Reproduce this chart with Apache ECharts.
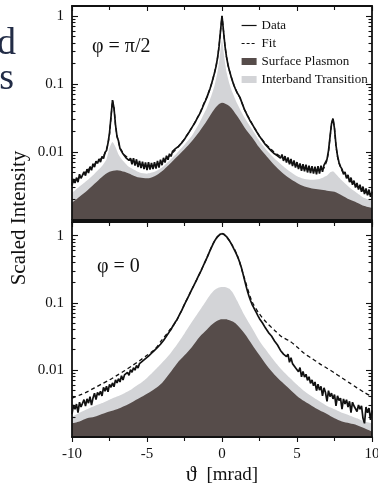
<!DOCTYPE html>
<html>
<head>
<meta charset="utf-8">
<script src="https://cdn.jsdelivr.net/npm/echarts@6/dist/echarts.min.js"></script>
<style>
  html, body { margin: 0; padding: 0; background: #fff; }
  #chart { width: 378px; height: 486px; }
</style>
</head>
<body>
<div id="chart"></div>
<script>
// Sampling grids (scattering angle, mrad)
const thetaFine = [];
for (let i = 0; i <= 200; i++) thetaFine.push(Math.round((-10 + i * 0.1) * 10) / 10);
const thetaHalf = [];
for (let i = 0; i <= 40; i++) thetaHalf.push(Math.round((-10 + i * 0.5) * 10) / 10);

// Axis ticks
const xTicks = [-10, -5, 0, 5, 10];
const yMajorTicks = [0.01, 0.1, 1];
const yMinorTicks = [0.002, 0.003, 0.004, 0.005, 0.006, 0.007, 0.008, 0.009,
                     0.02, 0.03, 0.04, 0.05, 0.06, 0.07, 0.08, 0.09,
                     0.2, 0.3, 0.4, 0.5, 0.6, 0.7, 0.8, 0.9];

// ---- phi = pi/2 panel ----
const dataPerp = [
  .0032,.0040,.0035,.0042,.0036,.0047,.0041,.0043,.0051,.0045,
  .0056,.0049,.0061,.0054,.0067,.0060,.0073,.0068,.0079,.0071,
  .0086,.0080,.0098,.0105,.0135,.019,.033,.058,.044,.025,
  .017,.0145,.0112,.0108,.0094,.0093,.0082,.0085,.0075,.0081,
  .0066,.0081,.0063,.0078,.0060,.0074,.0058,.0072,.0056,.0070,
  .0054,.0071,.0055,.0069,.0056,.0071,.0057,.0074,.0059,.0077,
  .0064,.0082,.0070,.0088,.0077,.0094,.0086,.0102,.0096,.0112,
  .0109,.0121,.0123,.0135,.0142,.0154,.0167,.0178,.0195,.0208,
  .023,.025,.027,.030,.033,.036,.040,.045,.051,.057,
  .064,.074,.085,.100,.120,.145,.180,.240,.350,.600,
  1.00,.600,.360,.250,.190,.155,.130,.110,.095,.084,
  .075,.069,.063,.055,.048,.042,.038,.034,.031,.028,
  .026,.0238,.0218,.0200,.0187,.0170,.0162,.0148,.0140,.0128,
  .0126,.0115,.0116,.0103,.0106,.0094,.0100,.0088,.0094,.0081,
  .0092,.0074,.0087,.0070,.0083,.0066,.0079,.0062,.0075,.0059,
  .0071,.0056,.0068,.0053,.0066,.0052,.0065,.0050,.0063,.0049,
  .0062,.0048,.0061,.0047,.0062,.0048,.0063,.0051,.0064,.0066,
  .0078,.0105,.0165,.026,.031,.022,.0125,.0088,.0070,.0061,
  .0056,.0047,.0051,.0041,.0046,.0036,.0042,.0033,.0038,.0030,
  .0035,.0028,.0033,.0026,.0031,.0024,.0029,.0023,.0028,.0022,
  .0026
];
const fitPerpTheta = [-10,-9.5,-9,-8.5,-8,-7.8,-7.6,-7.5,-7.4,-7.3,-7.2,-7.1,-7,-6.9,-6.8,-6.5,-6,-5.5,-5,-4.5,
  -4,-3.5,-3,-2.5,-2,-1.5,-1.2,-1,-0.8,-0.6,-0.4,-0.3,-0.2,-0.1,0,0.1,0.2,0.3,0.4,0.6,
  0.8,1,1.2,1.5,2,2.5,3,3.5,4,4.5,5,5.5,6,6.5,6.8,7,7.1,7.2,7.3,7.4,7.5,7.6,7.7,7.8,8,8.5,9,9.5,10];
const fitPerp = [.0035,.0042,.0053,.0066,.0082,.0095,.013,.018,.032,.057,.045,.025,.017,.014,.0115,.009,.0074,.0066,.0062,.0063,
  .0071,.0088,.0113,.0155,.023,.036,.052,.065,.085,.12,.18,.24,.35,.6,1.0,.6,.36,.25,.19,.13,
  .095,.075,.063,.042,.026,.017,.0125,.0098,.0083,.0071,.0063,.0058,.0055,.0054,.0058,.0075,.010,.016,.026,.031,
  .022,.012,.0085,.0068,.0053,.0038,.0031,.0026,.0023];
const plasmonPerp = [.0018,.0022,.0027,.0034,.0043,.0051,.0054,.0051,.0046,.0042,
  .0041,.0044,.0052,.0066,.0085,.0110,.0145,.020,.029,.043,
  .053,
  .047,.034,.023,.0165,.0115,.0085,.0064,.0050,.0041,.0035,
  .0031,.0029,.0028,.0027,.0026,.0023,.0020,.0018,.0016,.0015];
// upper edge of the interband band (stacked above the plasmon band)
const interbandPerpTheta = [-10,-9.5,-9,-8.5,-8,-7.7,-7.5,-7.3,-7.1,-6.9,-6.6,-6.3,-6,-5.5,-5,-4.5,-4,-3.5,-3,-2.5,
  -2,-1.5,-1,-0.7,-0.5,-0.3,-0.15,0,0.15,0.3,0.5,0.7,1,1.5,2,2.5,3,3.5,4,4.5,
  5,5.5,6,6.5,7,7.2,7.4,7.6,8,8.5,9,9.5,10];
const interbandPerp = [.0025,.0031,.0038,.0048,.0062,.0078,.0115,.0140,.0118,.0092,.0074,.0063,.0057,.0050,.0048,.0051,.0059,.0075,.0097,.0128,
  .0175,.027,.045,.068,.095,.15,.25,.45,.25,.15,.10,.075,.052,.032,.0215,.0145,.0105,.0080,.0064,.0052,
  .0044,.0040,.0039,.0040,.0045,.0050,.0052,.0047,.0038,.0030,.0025,.0021,.0019];

// ---- phi = 0 panel ----
const dataPar = [
  .0022,.0030,.0026,.0031,.0023,.0033,.0028,.0027,.0036,.0029,
  .0037,.0032,.0040,.0030,.0038,.0045,.0036,.0046,.0042,.0048,
  .0041,.0055,.0048,.0057,.0047,.0061,.0055,.0064,.0056,.0071,
  .0064,.0074,.0066,.0082,.0071,.0084,.0080,.0092,.0083,.0101,
  .0092,.0108,.0099,.0116,.0107,.0124,.0116,.0135,.0128,.0147,
  .0142,.0160,.0159,.0177,.0176,.0196,.0195,.0216,.0219,.0241,
  .0246,.0274,.0288,.0319,.0339,.0372,.0400,.0441,.0476,.0522,
  .056,.062,.069,.076,.085,.095,.105,.116,.129,.144,
  .160,.177,.196,.218,.243,.270,.300,.336,.376,.421,
  .470,.53,.60,.67,.75,.83,.90,.97,1.02,1.06,
  1.08,1.06,1.02,.97,.91,.84,.77,.70,.63,.57,
  .51,.45,.39,.33,.27,.22,.18,.148,.125,.108,
  .095,.086,.078,.071,.064,.058,.055,.050,.047,.042,
  .040,.036,.036,.032,.031,.027,.027,.0235,.0228,.0195,
  .0198,.0172,.0181,.0158,.0171,.0130,.0152,.0124,.0131,.0108,
  .0113,.0094,.0108,.0079,.0095,.0078,.0086,.0070,.0079,.0063,
  .0071,.0058,.0066,.0049,.0061,.0050,.0057,.0041,.0054,.0046,
  .0034,.0049,.0040,.0045,.0037,.0043,.0029,.0041,.0035,.0038,
  .0026,.0037,.0031,.0036,.0028,.0034,.0023,.0033,.0029,.0031,
  .0024,.0030,.0026,.0029,.0019,.0016,.0028,.0023,.0027,.0018,
  .0025
];
const fitPar = [.0038,.0042,.0047,.0054,.0062,.0071,.0083,.0097,.0115,.0137,
  .0165,.020,.028,.039,.056,.095,.16,.27,.47,.83,
  1.08,
  .84,.52,.23,.105,.068,.050,.039,.031,.027,.022,
  .0175,.0148,.0124,.0106,.0090,.0076,.0064,.0054,.0046,.0040];
const bandsParTheta = [-10,-9.5,-9,-8.5,-8,-7.5,-7,-6.5,-6,-5.5,-5,-4.5,-4,-3.5,-3,-2.5,-2,-1.5,-1,
  -0.75,-0.5,-0.25,0,0.25,0.5,0.75,
  1,1.5,2,2.5,3,3.5,4,4.5,5,5.5,6,6.5,7,7.5,8,8.5,9,9.5,10];
const plasmonPar = [.0016,.0017,.0019,.0020,.0022,.0024,.0026,.0029,.0033,.0038,.0044,.0052,.0064,.0088,.0125,.0165,.022,.031,.040,
  .046,.051,.055,.057,.057,.055,.052,
  .047,.035,.024,.0165,.0115,.0085,.0066,.0052,.0041,.0034,.0029,.0025,.0022,.0019,.0017,.0016,.0015,.00135,.0012];
const interbandPar = [.0020,.0023,.0026,.0029,.0032,.0036,.0040,.0045,.0052,.0062,.0076,.0098,.0128,.0170,.024,.035,.052,.076,.112,
  .135,.155,.168,.172,.171,.162,.138,
  .108,.065,.042,.027,.019,.0135,.0100,.0077,.0060,.0048,.0040,.0034,.0029,.0026,.0023,.0021,.0019,.0017,.0016];

const INK = '#111';
const DARK = '#564c4a';
const LIGHT = '#d3d4d7';
const FONT = '"Liberation Serif", "DejaVu Serif", serif';

const pairs = (xs, ys) => xs.map((x, i) => [x, ys[i]]);

const panels = [
  { top: 6, height: 214, min: 0.001, max: 1.4,
    data: dataPerp, fit: pairs(fitPerpTheta, fitPerp),
    plasmon: pairs(thetaHalf, plasmonPerp), interband: pairs(interbandPerpTheta, interbandPerp) },
  { top: 222, height: 215, min: 0.001, max: 1.6,
    data: dataPar, fit: pairs(thetaHalf, fitPar),
    plasmon: pairs(bandsParTheta, plasmonPar), interband: pairs(bandsParTheta, interbandPar) }
];

const axisLineStyle = { color: INK, width: 1.8 };
const tickLineStyle = { color: INK, width: 1.1 };

const grids = [], xAxes = [], yAxes = [], series = [];

panels.forEach((p, g) => {
  grids.push({ left: 72, top: p.top, width: 300, height: p.height, containLabel: false, outerBoundsMode: 'none' });

  const isLast = g === panels.length - 1;
  ['bottom', 'top'].forEach(pos => {
    const ax = {
      type: 'value', gridIndex: g, position: pos, min: -10, max: 10, interval: 5,
      axisLine: { show: true, onZero: false, lineStyle: axisLineStyle },
      axisTick: { show: true, inside: pos === 'top', length: 5, lineStyle: tickLineStyle },
      minorTick: { show: true, splitNumber: 2, length: 4, lineStyle: tickLineStyle },
      splitLine: { show: false }, minorSplitLine: { show: false },
      axisLabel: { show: false },
      z: 3
    };
    if (pos === 'bottom' && isLast) {
      ax.axisLabel = { show: true, customValues: xTicks, margin: 10, fontFamily: FONT, fontSize: 15, color: INK };
      ax.name = '{sym|ϑ} [mrad]';
      ax.nameLocation = 'middle';
      ax.nameGap = 27;
      ax.nameTextStyle = {
        fontFamily: FONT, fontSize: 19, color: INK,
        rich: { sym: { fontFamily: FONT, fontSize: 22, color: INK, padding: [0, 5, 0, 0] } }
      };
    }
    xAxes.push(ax);
  });

  ['left', 'right'].forEach(pos => {
    // major ticks (and labels on the left)
    yAxes.push({
      type: 'log', logBase: 10, gridIndex: g, position: pos, min: p.min, max: p.max,
      axisLine: { show: true, onZero: false, lineStyle: axisLineStyle },
      axisTick: { show: true, inside: true, length: 6, customValues: yMajorTicks, lineStyle: tickLineStyle },
      axisLabel: pos === 'left'
        ? { show: true, customValues: yMajorTicks, margin: 8, fontFamily: FONT, fontSize: 15, color: INK }
        : { show: false },
      splitLine: { show: false }, minorTick: { show: false },
      z: 3
    });
    // minor ticks
    yAxes.push({
      type: 'log', logBase: 10, gridIndex: g, position: pos, min: p.min, max: p.max,
      axisLine: { show: false, onZero: false },
      axisTick: { show: true, inside: true, length: 3.5, customValues: yMinorTicks, lineStyle: tickLineStyle },
      axisLabel: { show: false },
      splitLine: { show: false }, minorTick: { show: false },
      z: 3
    });
  });

  const xi = g * 2, yi = g * 4;
  series.push({
    name: 'Interband Transition', type: 'line', xAxisIndex: xi, yAxisIndex: yi,
    data: p.interband, symbol: 'none', smooth: 0.2, color: LIGHT,
    lineStyle: { width: 0 }, itemStyle: { color: LIGHT },
    areaStyle: { color: LIGHT, opacity: 1, origin: 'start' }
  });
  series.push({
    name: 'Surface Plasmon', type: 'line', xAxisIndex: xi, yAxisIndex: yi,
    data: p.plasmon, symbol: 'none', smooth: 0.3, color: DARK,
    lineStyle: { width: 0 }, itemStyle: { color: DARK },
    areaStyle: { color: DARK, opacity: 1, origin: 'start' }
  });
  series.push({
    name: 'Fit', type: 'line', xAxisIndex: xi, yAxisIndex: yi,
    data: p.fit, symbol: 'none', smooth: g === 1 ? 0.3 : false, color: INK,
    lineStyle: { color: INK, width: 1.3, type: [4, 3] }
  });
  series.push({
    name: 'Data', type: 'line', xAxisIndex: xi, yAxisIndex: yi,
    data: pairs(thetaFine, p.data), symbol: 'none', color: INK,
    lineStyle: { color: INK, width: 1.7 }
  });
});

const chart = echarts.init(document.getElementById('chart'), null, { renderer: 'canvas' });
chart.setOption({
  animation: false,
  backgroundColor: '#fff',
  grid: grids,
  xAxis: xAxes,
  yAxis: yAxes,
  series: series,
  legend: {
    orient: 'vertical', left: 241, top: 19, padding: 0,
    itemWidth: 15, itemHeight: 7, itemGap: 5,
    textStyle: { fontFamily: FONT, fontSize: 13, color: INK },
    data: [
      { name: 'Data', itemStyle: { opacity: 0 }, lineStyle: { width: 1.2 } },
      { name: 'Fit', itemStyle: { opacity: 0 }, lineStyle: { width: 1.2, type: [3, 2] } },
      { name: 'Surface Plasmon', icon: 'rect' },
      { name: 'Interband Transition', icon: 'rect' }
    ]
  },
  graphic: [
    { type: 'text', x: 92, y: 47, style: { text: 'φ = π/2', font: '20px ' + FONT, fill: INK, verticalAlign: 'middle' } },
    { type: 'text', x: 97, y: 267, style: { text: 'φ = 0', font: '20px ' + FONT, fill: INK, verticalAlign: 'middle' } },
    { type: 'text', x: 19, y: 218, rotation: Math.PI / 2,
      style: { text: 'Scaled Intensity', font: '21px ' + FONT, fill: INK, align: 'center', verticalAlign: 'middle' } },
    { type: 'text', x: 16, y: 44, style: { text: 'd', font: '38px ' + FONT, fill: '#222c46', align: 'right', verticalAlign: 'middle' } },
    { type: 'text', x: 14, y: 79, style: { text: 's', font: '38px ' + FONT, fill: '#222c46', align: 'right', verticalAlign: 'middle' } }
  ]
});
</script>
</body>
</html>
